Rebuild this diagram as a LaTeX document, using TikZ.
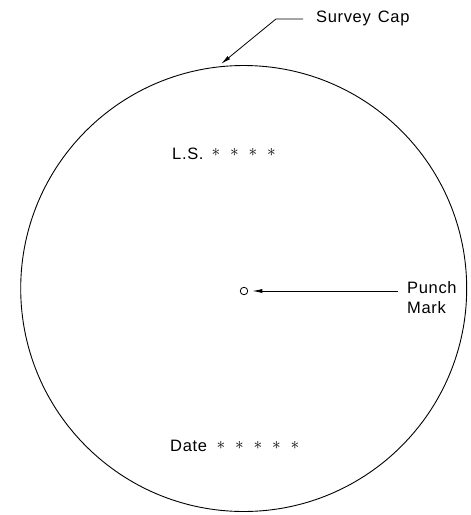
\documentclass[tikz,border=0pt]{standalone}
\usepackage{fontspec}
\setmainfont{Liberation Sans}[LetterSpace=4]
\usetikzlibrary{arrows.meta}
\begin{document}
\begin{tikzpicture}[x=1pt,y=-1pt,
    capLine/.style={line width=0.8pt},
    capPtr/.style={line width=0.8pt,-{Latex[length=10pt,width=4pt]}},
    capTxt/.style={font=\fontsize{16.5}{20}\selectfont,inner sep=0pt},
    capStar/.style={font=\fontsize{16.5}{20}\selectfont,inner sep=0pt},
]
\useasboundingbox (0,0) rectangle (471,515);
% outline of the cap
\draw[capLine, line width=0.9pt] (243.7,288.5) circle (223);
% stamping
\node[capTxt, anchor=base west] (ls) at (172,159) {L.S.};
\foreach \i/\x in {1/216,2/234.5,3/253,4/271.5}
    \node[capStar] (ls\i) at (\x,152.5) {$\ast$};
\node[capTxt, anchor=base west] (date) at (170,451.5) {Date};
\foreach \i/\x in {1/221,2/239.5,3/258,4/276.5,5/295}
    \node[capStar] (date\i) at (\x,445) {$\ast$};
% punch mark
\node[draw, circle, line width=0.8pt, minimum size=7.5pt, inner sep=0pt, outer sep=4.5pt] (punch) at (244,291) {};
\node[capTxt, anchor=north west, align=left] (pm) at (407,281) {Punch\\Mark};
\draw[capPtr] ([xshift=-9pt]pm.west |- punch.east) -- (punch.east);
% leader to the cap
\node[capTxt, anchor=base west] (sc) at (316,22) {Survey\hspace{7pt}Cap};
\coordinate (capTip) at (221,64);
\draw[capPtr] ([xshift=-13pt,yshift=-1pt]sc.west) -- ++(-27,0) -- (capTip);
\end{tikzpicture}
\end{document}
